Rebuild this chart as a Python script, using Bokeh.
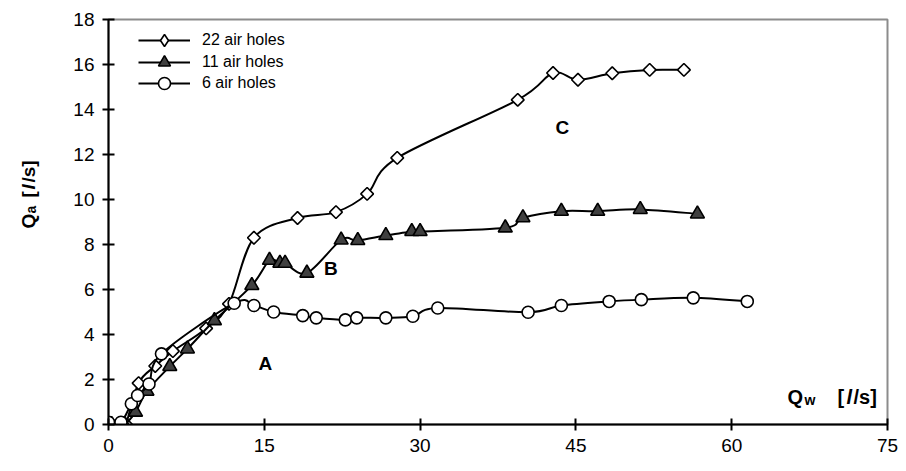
from bokeh.plotting import figure
from bokeh.layouts import row
from bokeh.models import Label, Legend, LegendItem, FixedTicker, Range1d
from bokeh.embed import file_html
from bokeh.resources import INLINE
import numpy as np

# ---- data ----
d22_x = [1.7, 2.9, 4.5, 6.2, 9.4, 11.6, 14.0, 18.2, 21.9, 24.9, 27.8, 39.4, 42.8, 45.2, 48.5, 52.1, 55.4]
d22_y = [0.0, 1.84, 2.6, 3.26, 4.27, 5.36, 8.3, 9.18, 9.44, 10.25, 11.85, 14.43, 15.62, 15.32, 15.61, 15.76, 15.76]

t11_x = [0.3, 1.5, 2.6, 3.7, 5.9, 7.6, 10.2, 13.8, 15.5, 16.5, 17.0, 19.1, 22.4, 24.0, 26.7, 29.2, 30.0, 38.2, 39.9, 43.6, 47.1, 51.2, 56.7]
t11_y = [0.0, 0.0, 0.55, 1.48, 2.58, 3.36, 4.62, 6.18, 7.3, 7.17, 7.17, 6.73, 8.2, 8.18, 8.4, 8.58, 8.58, 8.74, 9.19, 9.48, 9.48, 9.56, 9.36]

c6_x = [0.0, 1.2, 2.2, 2.8, 3.9, 5.1, 12.1, 14.0, 15.9, 18.7, 20.0, 22.8, 23.9, 26.7, 29.3, 31.7, 40.4, 43.6, 48.2, 51.3, 56.3, 61.5]
c6_y = [0.1, 0.1, 0.92, 1.29, 1.8, 3.14, 5.39, 5.29, 5.0, 4.84, 4.74, 4.65, 4.74, 4.74, 4.81, 5.18, 4.99, 5.29, 5.47, 5.55, 5.63, 5.47]

series_names = ["22 air holes", "11 air holes", "6 air holes"]
x_ticks = [0, 15, 30, 45, 60, 75]
y_ticks = [0, 2, 4, 6, 8, 10, 12, 14, 16, 18]
point_labels = ["A", "B", "C"]
point_label_x = [15.1, 21.4, 43.7]
point_label_y = [2.7, 6.93, 13.2]

FONT = "Liberation Sans"
INK = "black"
LEFT_W = 50


def smooth_segments(xs, ys):
    """Bezier control points for a smoothed line through the data (Catmull-Rom)."""
    x = np.asarray(xs, float)
    y = np.asarray(ys, float)
    n = len(x)
    xp = np.concatenate([[x[0]], x, [x[-1]]])
    yp = np.concatenate([[y[0]], y, [y[-1]]])
    seg = dict(x0=[], y0=[], x1=[], y1=[], cx0=[], cy0=[], cx1=[], cy1=[])
    for i in range(n - 1):
        k = i + 1
        seg["x0"].append(xp[k]); seg["y0"].append(yp[k])
        seg["x1"].append(xp[k + 1]); seg["y1"].append(yp[k + 1])
        seg["cx0"].append(xp[k] + (xp[k + 1] - xp[k - 1]) / 6)
        seg["cy0"].append(yp[k] + (yp[k + 1] - yp[k - 1]) / 6)
        seg["cx1"].append(xp[k + 1] - (xp[k + 2] - xp[k]) / 6)
        seg["cy1"].append(yp[k + 1] - (yp[k + 2] - yp[k]) / 6)
    return seg


p = figure(width=906 - LEFT_W, height=471, x_range=Range1d(0, 75), y_range=Range1d(0, 18),
           output_backend="svg", toolbar_location=None,
           min_border_left=108 - LEFT_W, min_border_right=19, min_border_top=19, min_border_bottom=47)

p.xgrid.visible = False
p.ygrid.visible = False
p.outline_line_color = "#8c8c8c"
p.outline_line_width = 2
p.background_fill_color = "white"
p.border_fill_color = "white"

for ax in (p.xaxis[0], p.yaxis[0]):
    ax.axis_line_width = 2
    ax.axis_line_color = INK
    ax.major_tick_line_width = 2
    ax.major_tick_line_color = INK
    ax.major_tick_in = 6
    ax.major_tick_out = 6
    ax.minor_tick_line_color = None
    ax.major_label_text_font = FONT
    ax.major_label_text_font_size = "19px"
    ax.major_label_text_color = INK
    ax.major_label_standoff = 8

p.xaxis[0].ticker = FixedTicker(ticks=x_ticks)
p.yaxis[0].ticker = FixedTicker(ticks=y_ticks)

LW = 2
series = [
    (d22_x, d22_y, dict(marker="square", angle=np.pi / 4, size=9, fill_color="white"), "diamond"),
    (t11_x, t11_y, dict(marker="triangle", size=14, fill_color="#404040"), None),
    (c6_x, c6_y, dict(marker="circle", size=12, fill_color="white"), None),
]

# one single-item legend per row, so that the rows sit close together
legend_bottoms = [369, 347, 326]

for (xs, ys, mk, legend_marker), name, lb in zip(series, series_names, legend_bottoms):
    seg = smooth_segments(xs, ys)
    p.bezier(x0=seg["x0"], y0=seg["y0"], x1=seg["x1"], y1=seg["y1"],
             cx0=seg["cx0"], cy0=seg["cy0"], cx1=seg["cx1"], cy1=seg["cy1"],
             line_color=INK, line_width=LW)
    sc = p.scatter(x=xs, y=ys, line_color=INK, line_width=1.6, **mk)
    # legend swatches (hidden on the plot, drawn only in the legend)
    leg_line = p.line(x=xs, y=ys, line_color=INK, line_width=LW, visible=False)
    if legend_marker is not None:
        leg_mk = p.scatter(x=xs, y=ys, marker=legend_marker, line_color=INK,
                           line_width=1.6, fill_color=mk["fill_color"], visible=False)
    else:
        leg_mk = sc
    lg = Legend(items=[LegendItem(label=name, renderers=[leg_line, leg_mk])],
                location=(30, lb), border_line_color=None,
                background_fill_alpha=0, padding=0, margin=0, spacing=0,
                label_height=30, glyph_height=30, glyph_width=52, label_standoff=12,
                label_text_font=FONT, label_text_font_size="16px", label_text_color=INK,
                inactive_fill_alpha=0)
    p.add_layout(lg)

for t, lx, ly in zip(point_labels, point_label_x, point_label_y):
    p.add_layout(Label(x=lx, y=ly, text=t, text_font=FONT, text_font_size="19px",
                       text_font_style="bold", text_align="center", text_baseline="middle",
                       text_color=INK))

# x-axis title inside the plot (bottom right)
XT_Y = 28
x_title = [("Q", 679, XT_Y, "20px", "bold"),
           ("w", 696, XT_Y - 3, "14px", "bold"),
           ("[", 729, XT_Y, "20px", "bold"),
           ("l", 738, XT_Y, "20px", "bold italic"),
           ("/s]", 745, XT_Y, "20px", "bold")]
for t, sx, sy, fs, st in x_title:
    p.add_layout(Label(x=sx, y=sy, x_units="screen", y_units="screen", text=t,
                       text_font=FONT, text_font_size=fs, text_font_style=st,
                       text_baseline="alphabetic", text_color=INK))

# y-axis title (rotated) in a narrow side panel without axes
side = figure(width=LEFT_W, height=471, x_range=Range1d(0, 1), y_range=Range1d(0, 1),
              output_backend="svg", toolbar_location=None,
              x_axis_location=None, y_axis_location=None,
              min_border=0, min_border_left=0, min_border_right=0,
              min_border_top=0, min_border_bottom=0)
side.grid.visible = False
side.outline_line_color = None
side.border_fill_color = "white"

YA = np.pi / 2
BASE_X = 28
Q_Y = 196
y_title = [("Q", BASE_X, Q_Y, "19px", "bold"),
           ("a", BASE_X + 2, Q_Y + 15, "14px", "bold"),
           ("[", BASE_X, Q_Y + 31, "19px", "bold"),
           ("l", BASE_X, Q_Y + 39, "19px", "bold italic"),
           ("/s]", BASE_X, Q_Y + 46, "19px", "bold")]
for t, sx, sy, fs, st in y_title:
    side.add_layout(Label(x=sx, y=sy, x_units="screen", y_units="screen", text=t, angle=YA,
                          text_font=FONT, text_font_size=fs, text_font_style=st,
                          text_baseline="alphabetic", text_color=INK))

layout = row(side, p, spacing=0)
open("out.html", "w").write(file_html(layout, INLINE))
